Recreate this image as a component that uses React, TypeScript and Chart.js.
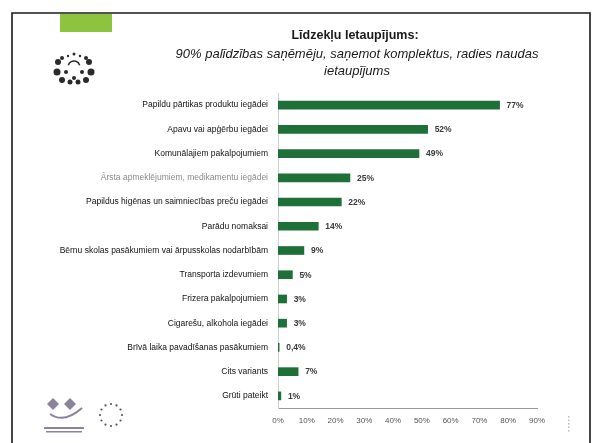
import React, { useEffect, useRef } from "react";
import { Chart, registerables } from "chart.js";

Chart.register(...registerables);

const categories = [
  "Papildu pārtikas produktu iegādei",
  "Apavu vai apģērbu iegādei",
  "Komunālajiem pakalpojumiem",
  "Ārsta apmeklējumiem, medikamentu iegādei",
  "Papildus higēnas un saimniecības preču iegādei",
  "Parādu nomaksai",
  "Bērnu skolas pasākumiem vai ārpusskolas nodarbībām",
  "Transporta izdevumiem",
  "Frizera pakalpojumiem",
  "Cigarešu, alkohola iegādei",
  "Brīvā laika pavadīšanas pasākumiem",
  "Cits variants",
  "Grūti pateikt",
];
const values = [77, 52, 49, 25, 22, 14, 9, 5, 3, 3, 0.4, 7, 1];
const valueLabels = ["77%", "52%", "49%", "25%", "22%", "14%", "9%", "5%", "3%", "3%", "0,4%", "7%", "1%"];
const xMin = 0;
const xMax = 90;
const xStep = 10;

const titleText = "Līdzekļu Ietaupījums:";
const subtitleLines = [
  "90% palīdzības saņēmēju, saņemot komplektus, radies naudas",
  "ietaupījums",
];

const decorPlugin = {
  id: "decor",
  beforeDraw(chart: any) {
    const ctx = chart.ctx;
    ctx.save();
    ctx.fillStyle = "#ffffff";
    ctx.fillRect(0, 0, chart.width, chart.height);
    // frame
    ctx.strokeStyle = "#1a1a1a";
    ctx.lineWidth = 1.6;
    ctx.beginPath();
    ctx.moveTo(12, 445);
    ctx.lineTo(12, 13);
    ctx.lineTo(590, 13);
    ctx.lineTo(590, 445);
    ctx.stroke();
    // green tab
    ctx.fillStyle = "#8cc43f";
    ctx.fillRect(60, 14, 52, 18);
    // coat of arms (simplified)
    ctx.strokeStyle = "#2a2a2a";
    ctx.fillStyle = "#2a2a2a";
    ctx.lineWidth = 1.5;
    ctx.beginPath();
    ctx.arc(74, 67, 6, Math.PI * 1.1, Math.PI * 1.9);
    ctx.stroke();
    const blobs = [
      [58, 62, 3], [62, 58, 2], [89, 62, 3], [86, 58, 2], [57, 72, 3.5], [91, 72, 3.5],
      [62, 80, 3], [86, 80, 3], [70, 82, 2.5], [78, 82, 2.5], [74, 78, 2], [66, 72, 2], [82, 72, 2],
      [74, 54, 1.5], [68, 56, 1.2], [80, 56, 1.2],
    ];
    for (const [x, y, r] of blobs) {
      ctx.beginPath();
      ctx.arc(x, y, r, 0, Math.PI * 2);
      ctx.fill();
    }
    // bottom-left logo
    ctx.fillStyle = "#8b8399";
    const diamond = (cx: number, cy: number, s: number) => {
      ctx.beginPath();
      ctx.moveTo(cx, cy - s);
      ctx.lineTo(cx + s, cy);
      ctx.lineTo(cx, cy + s);
      ctx.lineTo(cx - s, cy);
      ctx.closePath();
      ctx.fill();
    };
    diamond(53, 404, 6);
    diamond(70, 404, 6);
    ctx.strokeStyle = "#8b8399";
    ctx.lineWidth = 2;
    ctx.beginPath();
    ctx.moveTo(50, 414);
    ctx.quadraticCurveTo(64, 424, 82, 408);
    ctx.stroke();
    ctx.fillRect(44, 427, 40, 2);
    ctx.fillRect(46, 431, 36, 1.5);
    // EU stars ring
    ctx.fillStyle = "#555";
    for (let i = 0; i < 12; i++) {
      const a = (i / 12) * Math.PI * 2;
      ctx.beginPath();
      ctx.arc(111 + Math.cos(a) * 11, 415 + Math.sin(a) * 11, 1.1, 0, Math.PI * 2);
      ctx.fill();
    }
    ctx.restore();
  },
  afterDraw(chart: any) {
    const ctx = chart.ctx;
    ctx.save();
    ctx.textAlign = "center";
    ctx.textBaseline = "middle";
    ctx.fillStyle = "#1a1a1a";
    ctx.font = "bold 12.5px 'Liberation Sans', Arial, sans-serif";
    ctx.fillText(titleText, 355, 36);
    ctx.font = "italic 13px 'Liberation Sans', Arial, sans-serif";
    ctx.fillText(subtitleLines[0], 357, 54);
    ctx.fillText(subtitleLines[1], 357, 71);
    // data labels
    const meta = chart.getDatasetMeta(0);
    ctx.textAlign = "left";
    ctx.font = "bold 8.5px 'Liberation Sans', Arial, sans-serif";
    meta.data.forEach((bar: any, i: number) => {
      ctx.fillStyle = "#3a3a3a";
      ctx.fillText(valueLabels[i], bar.x + 7, bar.y + 0.5);
    });
    // small mark at right
    ctx.fillStyle = "#bbb";
    for (let k = 0; k < 5; k++) ctx.fillRect(568, 416 + k * 3.5, 1.5, 1.5);
    ctx.restore();
  },
};

export default function App() {
  const ref = useRef<HTMLCanvasElement | null>(null);
  useEffect(() => {
    if (!ref.current) return;
    const chart = new Chart(ref.current, {
      type: "bar",
      data: {
        labels: categories,
        datasets: [
          {
            data: values,
            backgroundColor: "#1f7038",
            borderWidth: 0,
            barThickness: 8,
            categoryPercentage: 1,
          },
        ],
      },
      options: {
        indexAxis: "y",
        responsive: false,
        animation: false,
        devicePixelRatio: 1,
        layout: { padding: { top: 93, left: 0, right: 55, bottom: 15 } },
        plugins: {
          legend: { display: false },
          title: { display: false },
          tooltip: { enabled: false },
        },
        scales: {
          x: {
            min: xMin,
            max: xMax,
            ticks: {
              stepSize: xStep,
              padding: 8,
              color: "#555",
              font: { size: 8, family: "'Liberation Sans', Arial, sans-serif" },
              callback: (v: any) => v + "%",
            },
            grid: { display: false, drawTicks: false },
            border: { display: true, color: "#9a9a9a", width: 1 },
            afterFit: (scale: any) => {
              scale.height = 20;
            },
          },
          y: {
            ticks: {
              padding: 10,
              color: (c: any) => (c.index === 3 ? "#8a8a8a" : "#111"),
              font: { size: 8.5, family: "'Liberation Sans', Arial, sans-serif" },
              autoSkip: false,
            },
            grid: { display: false, drawTicks: false },
            border: { display: true, color: "#d0d0d0", width: 1 },
            afterFit: (scale: any) => {
              scale.width = 278;
            },
          },
        },
      },
      plugins: [decorPlugin],
    });
    return () => chart.destroy();
  }, []);
  return (
    <div style={{ position: "absolute", left: 0, top: 0, width: 592, height: 443, background: "#fff" }}>
      <canvas ref={ref} width={592} height={443} style={{ display: "block" }} />
    </div>
  );
}
